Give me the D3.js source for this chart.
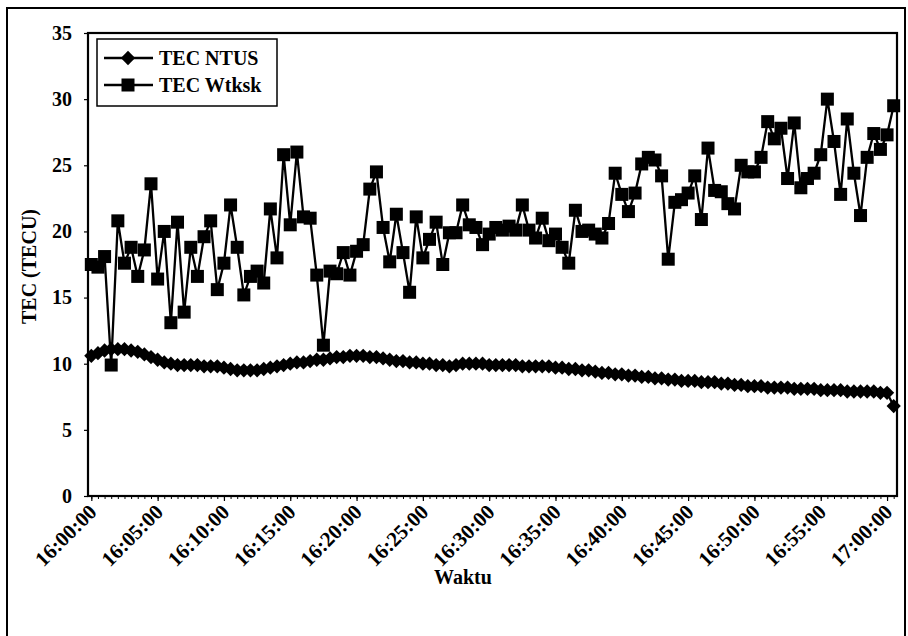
<!DOCTYPE html>
<html>
<head>
<meta charset="utf-8">
<script src="https://cdn.jsdelivr.net/npm/d3@7/dist/d3.min.js"></script>
<style>
  html, body { margin: 0; padding: 0; background: #fff; }
  svg { display: block; }
  text { font-family: "Liberation Serif", "Times New Roman", serif; font-weight: bold; fill: #000; }
</style>
</head>
<body>
<svg id="chart" width="908" height="636"></svg>
<script>
// ---- data (30-second samples, 16:00:00 .. 17:00:30) ----
const tickLabels = ["16:00:00","16:05:00","16:10:00","16:15:00","16:20:00","16:25:00",
  "16:30:00","16:35:00","16:40:00","16:45:00","16:50:00","16:55:00","17:00:00"];
const yTicks = [0, 5, 10, 15, 20, 25, 30, 35];
const seriesNames = ["TEC NTUS", "TEC Wtksk"];

const tecNTUS = [
  10.6,10.8,11.0,11.1,11.1,11.1,11.0,10.9,10.7,10.5,
  10.3,10.1,10.0,9.9,9.9,9.9,9.9,9.8,9.8,9.8,
  9.7,9.6,9.5,9.5,9.5,9.5,9.6,9.7,9.8,9.9,
  10.0,10.1,10.1,10.2,10.3,10.3,10.4,10.5,10.5,10.6,
  10.6,10.6,10.5,10.5,10.4,10.3,10.2,10.2,10.1,10.1,
  10.0,10.0,9.9,9.9,9.8,9.9,10.0,10.0,10.0,10.0,
  9.9,9.9,9.9,9.9,9.9,9.8,9.8,9.8,9.8,9.8,
  9.7,9.7,9.6,9.6,9.5,9.5,9.4,9.3,9.3,9.2,
  9.2,9.1,9.1,9.0,9.0,8.9,8.9,8.8,8.8,8.7,
  8.7,8.7,8.6,8.6,8.6,8.5,8.5,8.4,8.4,8.3,
  8.3,8.3,8.2,8.2,8.2,8.2,8.1,8.1,8.1,8.1,
  8.0,8.0,8.0,8.0,7.9,7.9,7.9,7.9,7.9,7.8,
  7.8,6.8
];

const tecWtksk = [
  17.5,17.3,18.1,9.9,20.8,17.6,18.8,16.6,18.6,23.6,
  16.4,20.0,13.1,20.7,13.9,18.8,16.6,19.6,20.8,15.6,
  17.6,22.0,18.8,15.2,16.6,17.0,16.1,21.7,18.0,25.8,
  20.5,26.0,21.1,21.0,16.7,11.4,17.0,16.8,18.4,16.7,
  18.5,19.0,23.2,24.5,20.3,17.7,21.3,18.4,15.4,21.1,
  18.0,19.4,20.7,17.5,19.9,19.9,22.0,20.5,20.3,19.0,
  19.8,20.3,20.1,20.4,20.1,22.0,20.1,19.5,21.0,19.3,
  19.8,18.8,17.6,21.6,20.0,20.1,19.8,19.5,20.6,24.4,
  22.8,21.5,22.9,25.1,25.6,25.4,24.2,17.9,22.2,22.4,
  22.9,24.2,20.9,26.3,23.1,23.0,22.1,21.7,25.0,24.5,
  24.5,25.6,28.3,27.0,27.8,24.0,28.2,23.3,24.0,24.4,
  25.8,30.0,26.8,22.8,28.5,24.4,21.2,25.6,27.4,26.2,
  27.3,29.5
];

// ---- layout ----
const svg = d3.select("#chart");
const pL = 88, pR = 897, pT = 33, pB = 496;

const idx = d3.range(tecWtksk.length);
const x = d3.scalePoint().domain(idx).range([pL, pR]).padding(0.5);
const y = d3.scaleLinear().domain([0, 35]).range([pB, pT]);

// outer border
svg.append("rect").attr("x", 7).attr("y", 8).attr("width", 898).attr("height", 640)
  .attr("fill", "none").attr("stroke", "#000").attr("stroke-width", 2);

// minor category ticks
const minor = svg.append("g").attr("transform", `translate(0,${pB})`)
  .call(d3.axisBottom(x).tickValues(idx).tickSize(3).tickFormat(""));
minor.select(".domain").remove();
minor.selectAll("line").attr("stroke", "#000").attr("stroke-width", 1);

// x axis major
const xa = svg.append("g").attr("transform", `translate(0,${pB})`)
  .call(d3.axisBottom(x).tickValues(idx.filter(i => i % 10 === 0))
    .tickSize(5).tickFormat(i => tickLabels[i / 10]));
xa.select(".domain").remove();
xa.selectAll("line").attr("stroke", "#000").attr("stroke-width", 1.2);
xa.selectAll("text")
  .attr("x", 0).attr("y", 0).attr("dy", "0.35em")
  .attr("text-anchor", "end")
  .attr("transform", "translate(1,12) rotate(-45)")
  .style("font-size", "21px");

// y axis
const ya = svg.append("g").attr("transform", `translate(${pL},0)`)
  .call(d3.axisLeft(y).tickValues(yTicks).tickSize(4).tickPadding(12));
ya.select(".domain").remove();
ya.selectAll("line").attr("stroke", "#000").attr("stroke-width", 1.2);
ya.selectAll("text").style("font-size", "20px");

// plot frame
svg.append("rect").attr("x", pL).attr("y", pT)
  .attr("width", pR - pL).attr("height", pB - pT)
  .attr("fill", "none").attr("stroke", "#000").attr("stroke-width", 2.2);

// series
const line = d3.line().x((d, i) => x(i)).y(d => y(d));
svg.append("path").datum(tecWtksk).attr("d", line)
  .attr("fill", "none").attr("stroke", "#000").attr("stroke-width", 2.3);
svg.append("path").datum(tecNTUS).attr("d", line)
  .attr("fill", "none").attr("stroke", "#000").attr("stroke-width", 2.3);

const sq = 13;
svg.append("g").selectAll("rect").data(tecWtksk).join("rect")
  .attr("x", (d, i) => x(i) - sq / 2).attr("y", d => y(d) - sq / 2)
  .attr("width", sq).attr("height", sq).attr("fill", "#000");

const diamond = d3.symbol().type(d3.symbolDiamond2).size(130);
svg.append("g").selectAll("path").data(tecNTUS).join("path")
  .attr("transform", (d, i) => `translate(${x(i)},${y(d)})`)
  .attr("d", diamond).attr("fill", "#000");

// legend
const lg = svg.append("g");
lg.append("rect").attr("x", 97).attr("y", 39).attr("width", 180).attr("height", 67)
  .attr("fill", "#fff").attr("stroke", "#000").attr("stroke-width", 1.5);
const rows = [
  { name: seriesNames[0], yy: 58, mark: "diamond" },
  { name: seriesNames[1], yy: 85, mark: "square" }
];
rows.forEach(r => {
  lg.append("line").attr("x1", 104).attr("x2", 153).attr("y1", r.yy).attr("y2", r.yy)
    .attr("stroke", "#000").attr("stroke-width", 2.3);
  if (r.mark === "diamond") {
    lg.append("path").attr("transform", `translate(128,${r.yy})`)
      .attr("d", d3.symbol().type(d3.symbolDiamond2).size(130)).attr("fill", "#000");
  } else {
    lg.append("rect").attr("x", 128 - 6.5).attr("y", r.yy - 6.5).attr("width", 13).attr("height", 13)
      .attr("fill", "#000");
  }
  lg.append("text").attr("x", 159).attr("y", r.yy).attr("dy", "0.35em")
    .style("font-size", "20px").text(r.name);
});

// axis titles
svg.append("text").attr("x", 463).attr("y", 584)
  .attr("text-anchor", "middle").style("font-size", "20px").text("Waktu");
svg.append("text").attr("transform", `translate(36,${(pT + pB) / 2 + 2}) rotate(-90)`)
  .attr("text-anchor", "middle").style("font-size", "20px").text("TEC (TECU)");
</script>
</body>
</html>
